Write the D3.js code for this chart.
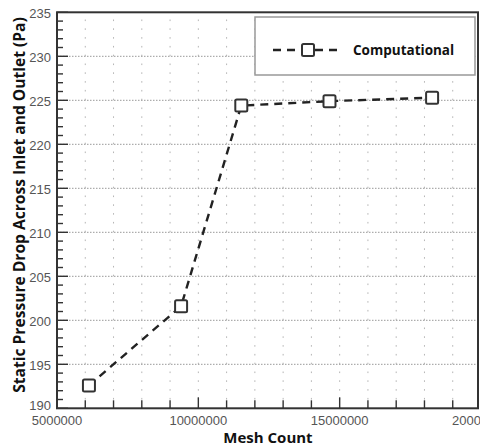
<!DOCTYPE html>
<html>
<head>
<meta charset="utf-8">
<script src="https://cdn.jsdelivr.net/npm/d3@7"></script>
<style>
  body { margin: 0; background: #fff; }
  svg { display: block; }
  .tick-label { font-family: "Liberation Sans", Arial, sans-serif; font-size: 13px; fill: #555; }
  .title { font-family: "Open Sans", Lato, sans-serif; font-weight: 700; fill: #111; }
</style>
</head>
<body>
<script>
// mesh study values
var meshCount = [6130000, 9390000, 11520000, 14640000, 18270000];
var pressureDrop = [192.6, 201.6, 224.4, 224.9, 225.3];
var xTicks = [5000000, 10000000, 15000000, 20000000];
var yTicks = [190, 195, 200, 205, 210, 215, 220, 225, 230, 235];
var seriesName = "Computational";

var W = 480, H = 448;
var plotL = 57, plotT = 12.3, plotB = 408.3, plotR = 478;

var svg = d3.select("body").append("svg").attr("width", W).attr("height", H);

var x = d3.scaleLinear().domain([5000000, 20000000]).range([plotL, 481]);
var y = d3.scaleLinear().domain([190, 235]).range([plotB, plotT]);

var minorX = d3.range(6000000, 20000001, 1000000);
var minorY = d3.range(190, 236, 1);

// grid
svg.append("g").selectAll("line").data(minorX).enter().append("line")
  .attr("x1", d => x(d)).attr("x2", d => x(d))
  .attr("y1", plotB).attr("y2", plotT)
  .attr("stroke", "#b5b5b5").attr("stroke-width", 1)
  .attr("stroke-dasharray", "1.6,7.2");
svg.append("g").selectAll("line").data(yTicks.slice(1, -1)).enter().append("line")
  .attr("x1", plotL).attr("x2", plotR)
  .attr("y1", d => y(d)).attr("y2", d => y(d))
  .attr("stroke", "#999").attr("stroke-width", 1)
  .attr("stroke-dasharray", "1.5,1.5");

// ticks
var tk = svg.append("g").attr("stroke", "#333").attr("stroke-width", 1.4);
tk.selectAll(".ym").data(minorY).enter().append("line")
  .attr("x1", plotL).attr("x2", d => plotL + (d % 5 === 0 ? 11 : 6))
  .attr("y1", d => y(d)).attr("y2", d => y(d));
tk.selectAll(".xm").data(minorX.concat([5000000])).enter().append("line")
  .attr("x1", d => x(d)).attr("x2", d => x(d))
  .attr("y1", plotB).attr("y2", d => plotB - (d % 5000000 === 0 ? 11 : 8));

// frame
svg.append("rect")
  .attr("x", plotL).attr("y", plotT)
  .attr("width", plotR - plotL).attr("height", plotB - plotT)
  .attr("fill", "none").attr("stroke", "#333").attr("stroke-width", 2);

// tick labels
svg.append("g").selectAll("text").data(yTicks).enter().append("text")
  .attr("class", "tick-label")
  .attr("x", 51).attr("y", d => y(d) + (d === 190 ? 2 : 6))
  .attr("text-anchor", "end")
  .text(d => d);
svg.append("g").selectAll("text").data(xTicks).enter().append("text")
  .attr("class", "tick-label")
  .attr("x", d => x(d)).attr("y", 425)
  .attr("text-anchor", "middle")
  .text(d => d);

// axis titles
svg.append("text").attr("class", "title")
  .attr("x", 268).attr("y", 443)
  .attr("text-anchor", "middle").attr("font-size", 15)
  .text("Mesh Count");
svg.append("text").attr("class", "title")
  .attr("transform", "translate(24.5,205) rotate(-90)")
  .attr("text-anchor", "middle").attr("font-size", 15.6)
  .text("Static Pressure Drop Across Inlet and Outlet (Pa)");

// series
var pts = meshCount.map((m, i) => [m, pressureDrop[i]]);
svg.append("path")
  .attr("d", d3.line().x(d => x(d[0])).y(d => y(d[1]))(pts))
  .attr("fill", "none").attr("stroke", "#222").attr("stroke-width", 2.4)
  .attr("stroke-dasharray", "8,6");
svg.append("g").selectAll("rect").data(pts).enter().append("rect")
  .attr("x", d => x(d[0]) - 6).attr("y", d => y(d[1]) - 6)
  .attr("width", 12).attr("height", 12).attr("rx", 1.5)
  .attr("fill", "#fff").attr("stroke", "#333").attr("stroke-width", 2);

// legend
var lg = svg.append("g");
lg.append("rect").attr("x", 255).attr("y", 17).attr("width", 220).attr("height", 58)
  .attr("fill", "#fff").attr("stroke", "#999").attr("stroke-width", 1.5);
lg.append("line").attr("x1", 273).attr("x2", 338).attr("y1", 50).attr("y2", 50)
  .attr("stroke", "#222").attr("stroke-width", 2.4).attr("stroke-dasharray", "8,6");
lg.append("rect").attr("x", 302).attr("y", 44).attr("width", 12).attr("height", 12).attr("rx", 1.5)
  .attr("fill", "#fff").attr("stroke", "#333").attr("stroke-width", 2);
lg.append("text").attr("class", "title").attr("x", 353).attr("y", 55)
  .attr("font-size", 13.5).text(seriesName);
</script>
</body>
</html>
